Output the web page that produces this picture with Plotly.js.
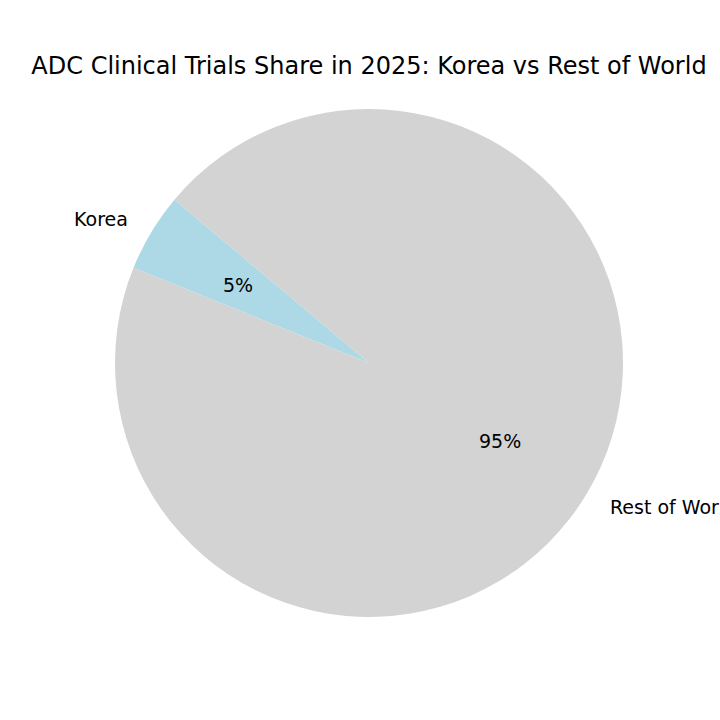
<!DOCTYPE html>
<html>
<head>
<meta charset="utf-8">
<script src="https://cdn.plot.ly/plotly-3.0.1.min.js"></script>
<style>
  body { margin: 0; background: #fff; }
  #chart { width: 720px; height: 720px; }
</style>
</head>
<body>
<div id="chart"></div>
<script>
// donnees du camembert
var labels = ['Korea', 'Rest of World'];
var values = [5, 95];
var colors = ['#add8e6', '#d3d3d3'];

// angle de depart (comme matplotlib startangle=140, sens anti-horaire)
var startAngle = 140;

var total = values.reduce(function(a, b) { return a + b; }, 0);
var firstSpan = values[0] / total * 360;

var data = [{
  type: 'pie',
  labels: labels,
  values: values,
  marker: { colors: colors, line: { width: 0 } },
  sort: false,
  direction: 'counterclockwise',
  // plotly compte la rotation depuis midi, dans le sens horaire
  rotation: 90 - startAngle - firstSpan,
  textinfo: 'none',
  hoverinfo: 'label+percent',
  showlegend: false,
  domain: { x: [0, 1], y: [0, 1] }
}];

// etiquettes et pourcentages places a partir des valeurs
var annotations = [];
var angle = startAngle;
for (var i = 0; i < values.length; i++) {
  var span = values[i] / total * 360;
  var mid = (angle + span / 2) * Math.PI / 180;
  var cx = Math.cos(mid), cy = Math.sin(mid);
  annotations.push({
    xref: 'paper', yref: 'paper',
    x: 0.5 + 0.5 * 1.1 * cx, y: 0.5 + 0.5 * 1.1 * cy,
    text: labels[i],
    showarrow: false,
    xanchor: cx < 0 ? 'right' : 'left',
    yanchor: 'middle',
    font: { family: 'DejaVu Sans', size: 19, color: '#000' }
  });
  annotations.push({
    xref: 'paper', yref: 'paper',
    x: 0.5 + 0.5 * 0.6 * cx, y: 0.5 + 0.5 * 0.6 * cy,
    text: Math.round(values[i] / total * 100) + '%',
    showarrow: false,
    xanchor: 'center',
    yanchor: 'middle',
    font: { family: 'DejaVu Sans', size: 19, color: '#000' }
  });
  angle += span;
}

var layout = {
  width: 720,
  height: 720,
  margin: { l: 115, r: 97, t: 109, b: 103 },
  paper_bgcolor: '#fff',
  plot_bgcolor: '#fff',
  title: {
    text: 'ADC Clinical Trials Share in 2025: Korea vs Rest of World',
    font: { family: 'DejaVu Sans', size: 24, color: '#000' },
    x: 0.5125, xanchor: 'center',
    y: 1 - 66 / 720, yref: 'container', yanchor: 'middle'
  },
  annotations: annotations
};

Plotly.newPlot('chart', data, layout, { displayModeBar: false });
</script>
</body>
</html>
